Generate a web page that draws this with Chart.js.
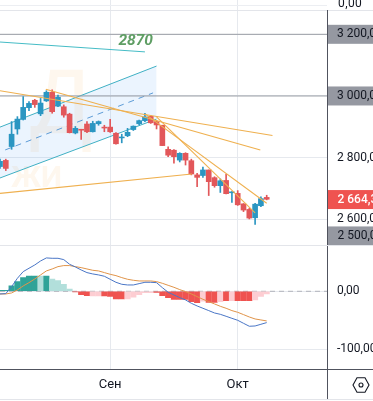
<!DOCTYPE html>
<html><head><meta charset="utf-8">
<script src="https://cdn.jsdelivr.net/npm/chart.js@4/dist/chart.umd.min.js"></script>
<style>
html,body{margin:0;padding:0;background:#fff;width:373px;height:401px;overflow:hidden}
canvas{position:absolute;left:0}
.ln{position:absolute}
#zero{position:absolute;left:338px;top:-4px;font:12px Roboto,sans-serif;color:#131722;letter-spacing:.4px}
svg{position:absolute;left:352px;top:376px}
</style></head><body>
<canvas id="price" width="373" height="245" style="top:0;width:373px;height:245px"></canvas>
<canvas id="macd" width="373" height="156" style="top:245px;width:373px;height:156px"></canvas>
<div class="ln" style="left:0;top:5px;width:327px;height:1px;background:#eceef2"></div>
<div class="ln" style="left:0;top:10px;width:373px;height:1px;background:#e3e5ea"></div>
<div class="ln" style="left:0;top:245px;width:373px;height:1px;background:#e3e5ea"></div>
<div class="ln" style="left:0;top:399px;width:373px;height:1px;background:#e3e5ea"></div>
<div class="ln" style="left:327px;top:10px;width:1px;height:235px;background:#50535e"></div>
<div class="ln" style="left:327px;top:246px;width:1px;height:153px;background:#50535e"></div>
<div class="ln" style="left:0;top:369px;width:373px;height:1px;background:#50535e"></div>
<div id="zero">0,00</div>
<svg width="18" height="18" viewBox="0 0 18 18" fill="none" stroke="#131722" stroke-width="1.1"><path d="M5 1.8h8l4 7.2-4 7.2H5L1 9z"/><circle cx="9" cy="9" r="2"/></svg>
<script>
// candle values
const opens =[2771,2791,2836,2893,2924,2962,2986,2942,2984,3012,2967,2965,2941,2880,2892,2909,2884,2910,2899,2899,2879,2864,2871,2891,2910,2920,2934,2917,2905,2827,2824,2792,2814,2790,2744,2742,2760,2735,2709,2726,2686,2684,2650,2632,2605,2644,2671];
const closes=[2788,2765,2876,2925,2963,2976,2972,2977,3012,2949,2996,2938,2881,2895,2889,2884,2911,2917,2896,2884,2845,2867,2882,2902,2920,2932,2913,2906,2839,2808,2803,2814,2792,2747,2736,2760,2722,2709,2725,2683,2689,2647,2630,2604,2649,2667,2665];
const highs =[2795,2795,2917,2933,2998,2982,2989,2992,3017,3020,3003,2971,2944,2901,2892,2917,2918,2919,2905,2924,2881,2876,2895,2903,2922,2944,2937,2920,2905,2835,2826,2816,2816,2795,2749,2769,2760,2738,2731,2746,2690,2693,2651,2636,2652,2673,2678];
const lows  =[2765,2758,2827,2876,2922,2952,2963,2936,2982,2944,2965,2931,2880,2877,2859,2881,2883,2905,2884,2882,2844,2848,2868,2888,2906,2917,2911,2893,2839,2803,2782,2786,2776,2744,2706,2736,2677,2704,2687,2682,2655,2645,2625,2601,2583,2641,2663];
// MACD values
const histogram=[1.7,1.7,9.2,16.7,23.6,26.4,26.4,26.4,26.4,21,18.4,12,4,-1,-6,-7.5,-8,-8,-8,-9,-13,-13,-13,-10,-6,-2.3,-2.3,-2,-7.5,-11,-14,-14,-14,-18,-19.5,-17,-19,-19,-18,-16,-16,-16,-16,-16,-15,-9,-4.6];
const histogramShade=[2,2,2,2,2,2,2,1,2,1,1,1,1,2,2,2,1,1,2,2,2,2,1,1,1,1,1,2,2,2,2,2,2,2,2,1,2,2,1,2,1,2,2,2,1,1,1];
const macdLine=[-4.6,-4,8,22.4,33.9,39.7,45.4,52.3,57.5,56.9,56.9,54.6,46.6,41.9,36.8,32.2,29.9,28.2,25.9,20.7,15.5,12.1,10.9,10.9,13.2,15.5,15.5,14.9,6.3,-1.7,-6.3,-10.9,-14.9,-20.7,-25.3,-29.3,-33.3,-37.4,-39.7,-43.1,-46.6,-50,-55.2,-60.3,-59.8,-56.9,-54];
const signalLine=[-4.6,-4.6,-2.9,2.3,9.2,14.9,21.3,28.2,35.1,38.5,42.5,44.3,44.3,42.5,40.8,38.5,36.2,35.1,32.2,29.3,27,23.6,20.7,19,17.8,17.8,17.8,16.7,13.8,10.3,6.9,2.9,-0.6,-4.6,-9.2,-13.8,-17.8,-21.8,-25.9,-29.3,-33.3,-36.2,-40.2,-44.3,-47.7,-49.4,-51.1];
// axes
const monthIndex=[19,41];
const monthLabels=['Сен','Окт'];
const priceTicks=[3200,3000,2800,2600];
const macdTicks=[0,-100];
const levelLines=[3200,3000];
// drawn objects, [index, price]
const channelUpper=[[0,2899],[27,3097]];
const channelLower=[[0,2734],[27,2925]];
const channelMiddle=[[0.9,2825],[26.4,3010]];
const tealLine=[[0,3175],[25,3143]];
const orangeLines=[
 [[0,3017],[47,2872]],
 [[7.9,3022],[44.9,2825]],
 [[25,2942],[46,2652]],
 [[27,2932],[44,2621]],
 [[0,2684],[33.1,2747]]
];
const tagPrices=[3200,3000,2664,2546];
const tagTexts=['','','2 664,30','2 500,00'];
const tagFills=['#9598a1','#9598a1','#ef5350','#9598a1'];
const tagInk=['','','#ffffff','#131722'];
const noteText='2870';
const notePoint=[23.4,3178];

const FONT='Roboto, sans-serif';
const idx=opens.map((_,i)=>i);
const RED='#e2575a',BLUE='#2b96c2',INK='#131722';
const pts=a=>a.map(p=>({x:p[0],y:p[1]}));
const xBase={type:'linear',offset:false,min:0,max:56.4,
  afterBuildTicks:s=>{s.ticks=monthIndex.map(v=>({value:v}))},
  grid:{color:'#e6e9ee',drawTicks:false,offset:false},border:{display:false}};
const noPad=s=>{s.paddingTop=0;s.paddingBottom=0;s.paddingLeft=0;s.paddingRight=0};
const fmtPrice=v=>String(v).replace(/(\d)(\d{3})$/,'$1 $2')+',00';

const tagsPlugin={id:'tags',
 beforeDraw(c){
  const g=c.ctx,y=c.scales.y;g.save();
  g.fillStyle='#fef7ee';g.textBaseline='alphabetic';g.textAlign='left';
  g.font='92px "Liberation Sans Narrow", sans-serif';g.fillText('Д',30,133);
  g.font='bold 30px '+FONT;g.fillText('ЖИ',11,187);
  tagPrices.forEach((p,i)=>{const py=y.getPixelForValue(p);
   g.fillStyle=tagFills[i];g.fillRect(328,py-9.5,45,19);});
  g.restore();},
 afterDraw(c){
  const g=c.ctx,y=c.scales.y;g.save();g.textBaseline='middle';g.textAlign='left';
  tagPrices.forEach((p,i)=>{if(!tagTexts[i])return;
   g.fillStyle=tagInk[i];g.font=(i==2?'500 ':'')+'12px '+FONT;
   g.fillText(tagTexts[i],337.5,y.getPixelForValue(p));});
  g.font='italic bold 15.5px '+FONT;g.fillStyle='#5f9e64';g.textAlign='center';
  g.fillText(noteText,c.scales.x.getPixelForValue(notePoint[0]),y.getPixelForValue(notePoint[1]));
  g.restore();}
};

const line=(a,color,extra)=>Object.assign({type:'line',data:pts(a),borderColor:color,borderWidth:1,pointRadius:0,tension:0,order:1,fill:false},extra||{});
new Chart(document.getElementById('price'),{
 data:{datasets:[
  line(channelUpper,'#3fb0c4',{fill:'+1',backgroundColor:'rgba(33,130,243,0.09)',order:10}),
  line(channelLower,'#3fb0c4',{order:9}),
  line(channelMiddle,'#5c9bd6',{borderDash:[6,5],order:9}),
  line(tealLine,'#45bcc6',{order:9}),
  ...levelLines.map(v=>line([[0,v],[56.4,v]],'#9a9da5',{order:8})),
  {type:'bar',data:idx.map(i=>({x:i,y:[lows[i],highs[i]]})),grouped:false,barThickness:1,backgroundColor:idx.map(i=>closes[i]>=opens[i]?BLUE:RED),order:6},
  {type:'bar',data:idx.map(i=>({x:i,y:[opens[i],closes[i]]})),grouped:false,barThickness:5,backgroundColor:idx.map(i=>closes[i]>=opens[i]?BLUE:RED),order:5},
  ...orangeLines.map(a=>line(a,'#efb04f',{borderWidth:1.1,order:1}))
 ]},
 options:{animation:false,responsive:false,devicePixelRatio:1,layout:{padding:0},
  plugins:{legend:{display:false},tooltip:{enabled:false}},
  scales:{
   x:Object.assign({},xBase,{ticks:{display:false},afterFit:s=>{noPad(s);s.height=0}}),
   y:{position:'right',min:2516.6,max:3311.3,
    afterBuildTicks:s=>{s.ticks=priceTicks.map(v=>({value:v}))},
    afterFit:s=>{noPad(s);s.width=46},
    grid:{color:'#e6e9ee',drawTicks:false},border:{display:false},
    ticks:{padding:10,color:INK,font:{family:FONT,size:12},callback:fmtPrice}}
  }},
 plugins:[tagsPlugin]
});
const dimRed='#fdcdd2',dimTeal='#b2dfdb';
new Chart(document.getElementById('macd'),{
 data:{datasets:[
  line([[0,0],[56.4,0]],'#b0b3ba',{borderDash:[5,4],order:9}),
  {type:'bar',data:idx.map(i=>({x:i,y:histogram[i]})),grouped:false,barThickness:5.4,
   backgroundColor:idx.map(i=>histogram[i]>=0?(histogramShade[i]==2?'#2fa398':dimTeal):(histogramShade[i]==2?'#ef5350':dimRed)),order:5},
  {type:'line',data:idx.map(i=>({x:i,y:signalLine[i]})),borderColor:'#e0944a',borderWidth:1,pointRadius:0,order:2},
  {type:'line',data:idx.map(i=>({x:i,y:macdLine[i]})),borderColor:'#4a76c6',borderWidth:1,pointRadius:0,order:1}
 ]},
 options:{animation:false,responsive:false,devicePixelRatio:1,layout:{padding:0},
  plugins:{legend:{display:false},tooltip:{enabled:false}},
  scales:{
   x:Object.assign({},xBase,{afterFit:s=>{noPad(s);s.height=31.7},
     ticks:{padding:8,color:INK,maxRotation:0,autoSkip:false,font:{family:FONT,size:13},
       callback:v=>monthLabels[monthIndex.indexOf(v)]||''}}),
   y:{position:'right',min:-134.5,max:79.8,
    afterBuildTicks:s=>{s.ticks=macdTicks.map(v=>({value:v}))},
    afterFit:s=>{noPad(s);s.width=46},
    grid:{color:'#e6e9ee',drawTicks:false},border:{display:false},
    ticks:{padding:10,color:INK,font:{family:FONT,size:12},callback:v=>v===0?'0,00':'-100,00'}}
  }}
});
</script>
</body></html>
